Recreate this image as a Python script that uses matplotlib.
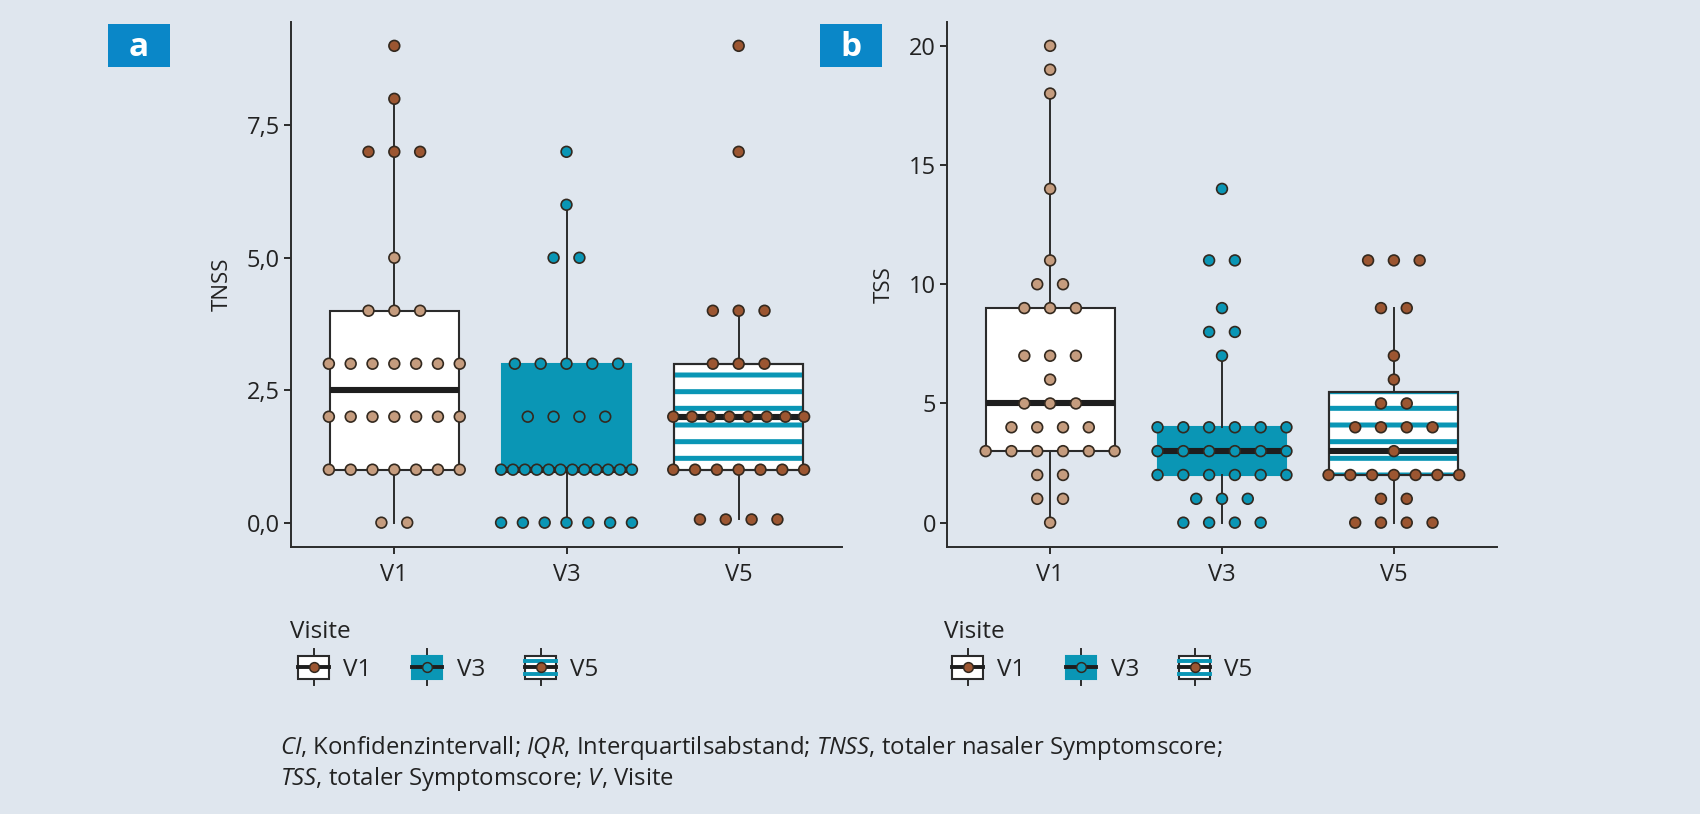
import matplotlib
matplotlib.use('Agg')
import matplotlib.pyplot as plt
import numpy as np
from matplotlib.legend_handler import HandlerBase
from matplotlib.patches import Rectangle, PathPatch, Patch
from matplotlib.lines import Line2D

plt.rcParams['font.family'] = ['Open Sans', 'DejaVu Sans']
plt.rcParams['mathtext.fontset'] = 'custom'
plt.rcParams['mathtext.it'] = 'Open Sans:italic'
plt.rcParams['mathtext.rm'] = 'Open Sans'
plt.rcParams['hatch.linewidth'] = 3.6

# data
visits = ['V1', 'V3', 'V5']

tnss_v1 = [9, 8, 7, 7, 7, 5, 4, 4, 4, 3, 3, 3, 3, 3, 3, 3, 2, 2, 2, 2, 2, 2, 2,
           1, 1, 1, 1, 1, 1, 1, 0, 0]
tnss_v3 = [7, 6, 5, 5, 3, 3, 3, 3, 3, 2, 2, 2, 2, 1, 1, 1, 1, 1, 1, 1, 1, 1, 1,
           1, 1, 0, 0, 0, 0, 0, 0, 0]
tnss_v5 = [9, 7, 4, 4, 4, 3, 3, 3, 2, 2, 2, 2, 2, 2, 2, 2, 1, 1, 1, 1, 1, 1, 1,
           0.06, 0.06, 0.06, 0.06]

tss_v1 = [20, 19, 18, 14, 11, 10, 10, 9, 9, 9, 7, 7, 7, 6, 5, 5, 5, 4, 4, 4, 4,
          3, 3, 3, 3, 3, 3, 2, 2, 1, 1, 0]
tss_v3 = [14, 11, 11, 9, 8, 8, 7, 4, 4, 4, 4, 4, 4, 3, 3, 3, 3, 3, 3, 2, 2, 2, 2,
          2, 2, 1, 1, 1, 0, 0, 0, 0]
tss_v5 = [11, 11, 11, 9, 9, 7, 6, 5, 5, 4, 4, 4, 4, 3, 2, 2, 2, 2, 2, 2, 2, 1, 1,
          0, 0, 0, 0]

tnss_ticks = [0, 2.5, 5, 7.5]
tnss_ticklabels = ['0,0', '2,5', '5,0', '7,5']
tss_ticks = [0, 5, 10, 15, 20]
tss_ticklabels = ['0', '5', '10', '15', '20']

# colours
BG = '#DFE6EE'
TEAL = '#0A96B5'
TAN = '#C59C7E'
BROWN = '#9C5631'
DARK = '#2B2B2B'
EDGE = '#33291F'
BLUE = '#0A87C8'


def spread(vals, width=0.38):
    # deterministic side-by-side placement of equal values
    vals = np.asarray(vals, dtype=float)
    off = np.zeros(len(vals))
    for v in np.unique(vals):
        idx = np.where(vals == v)[0]
        n = len(idx)
        if n > 1:
            w = min(width, 0.075 * (n - 1))
            off[idx] = np.linspace(-w, w, n)
    return off


def panel(ax, groups, dot_colors, ylim, ticks, ticklabels, ylabel, dark_above=None):
    ax.set_facecolor(BG)
    bp = ax.boxplot(groups, positions=[1, 2, 3], widths=0.75, patch_artist=True,
                    showfliers=False, whis=1.5,
                    medianprops=dict(color='#1E1E1E', lw=4.4, solid_capstyle='butt'),
                    whiskerprops=dict(color=DARK, lw=1.4),
                    capprops=dict(lw=0),
                    boxprops=dict(lw=1.5))
    for i, box in enumerate(bp['boxes']):
        box.set_zorder(1.9)
        if i == 1:
            box.set_facecolor(TEAL)
            box.set_edgecolor(TEAL)
        else:
            box.set_facecolor('white')
            box.set_edgecolor(DARK)
        if i == 2:
            ax.add_patch(PathPatch(box.get_path(), facecolor='none', edgecolor=TEAL,
                                   lw=0, hatch='-', zorder=2.0))
            ax.add_patch(PathPatch(box.get_path(), facecolor='none', edgecolor=DARK,
                                   lw=1.5, zorder=2.1))
    for m in bp['medians']:
        m.set_zorder(2.2)

    for i, vals in enumerate(groups):
        vals = np.asarray(vals, dtype=float)
        cols = [dot_colors[i]] * len(vals)
        if dark_above is not None and i == 0:
            cols = [BROWN if v > dark_above else dot_colors[i] for v in vals]
        ax.scatter(i + 1 + spread(vals), vals, s=60, c=cols, edgecolors=EDGE,
                   linewidths=1.2, zorder=3)

    ax.set_xlim(0.4, 3.6)
    ax.set_ylim(*ylim)
    ax.set_xticks([1, 2, 3])
    ax.set_xticklabels(visits)
    ax.set_yticks(ticks)
    ax.set_yticklabels(ticklabels)
    ax.set_ylabel(ylabel, fontsize=16, color='#222', labelpad=10)
    for s in ['top', 'right']:
        ax.spines[s].set_visible(False)
    for s in ['left', 'bottom']:
        ax.spines[s].set_color(DARK)
        ax.spines[s].set_linewidth(1.4)
    ax.tick_params(axis='y', length=5, width=1.4, color=DARK, labelsize=17,
                   labelcolor='#222', pad=3)
    ax.tick_params(axis='x', length=5, width=1.4, color=DARK, labelsize=17,
                   labelcolor='#222', pad=7)


class BoxKey(HandlerBase):
    def __init__(self, face, edge, dot, stripes=False):
        super().__init__()
        self.face, self.edge, self.dot, self.stripes = face, edge, dot, stripes

    def create_artists(self, legend, orig_handle, xdescent, ydescent, width,
                       height, fontsize, trans):
        x0, y0 = -xdescent + 6, -ydescent
        width = width - 6
        cx, cy = x0 + width / 2, y0 + height / 2
        arts = [Line2D([cx, cx], [y0 - 0.3 * height, y0 + 1.3 * height],
                       color=DARK, lw=1.4)]
        arts.append(Rectangle((x0, y0), width, height, facecolor=self.face,
                              edgecolor=self.edge, lw=1.5))
        if self.stripes:
            for f in (0.22, 0.78):
                arts.append(Line2D([x0, x0 + width], [y0 + f * height] * 2,
                                   color=TEAL, lw=2.8))
        arts.append(Line2D([x0, x0 + width], [cy, cy], color='#1E1E1E', lw=2.8))
        arts.append(Line2D([cx], [cy], marker='o', ms=7, mfc=self.dot,
                           mec=EDGE, mew=1.1, ls='none'))
        for a in arts:
            a.set_transform(trans)
        return arts


def add_legend(ax, x):
    handles = [Patch(), Patch(), Patch()]
    hmap = {handles[0]: BoxKey('white', DARK, BROWN),
            handles[1]: BoxKey(TEAL, TEAL, TEAL),
            handles[2]: BoxKey('white', DARK, BROWN, stripes=True)}
    leg = ax.legend(handles, visits, handler_map=hmap, title='Visite',
                    loc='upper left', bbox_to_anchor=(x / 1700, 1 - 620 / 814),
                    bbox_transform=fig.transFigure, ncol=3, frameon=False,
                    fontsize=17.5, title_fontsize=17.5, handlelength=1.6,
                    handleheight=1.05, handletextpad=0.6, columnspacing=1.3,
                    borderpad=0, borderaxespad=0, alignment='left')
    for t in leg.get_texts():
        t.set_color('#222')
    leg.get_title().set_color('#222')


fig = plt.figure(figsize=(17, 8.14), dpi=100, facecolor=BG)
ax_a = fig.add_axes([291 / 1700, 1 - 546.5 / 814, 551 / 1700, 524.5 / 814])
ax_b = fig.add_axes([947 / 1700, 1 - 546.5 / 814, 550 / 1700, 524.5 / 814])

panel(ax_a, [tnss_v1, tnss_v3, tnss_v5], [TAN, TEAL, BROWN], (-0.45, 9.45),
      tnss_ticks, tnss_ticklabels, 'TNSS', dark_above=6.5)
panel(ax_b, [tss_v1, tss_v3, tss_v5], [TAN, TEAL, BROWN], (-1, 21),
      tss_ticks, tss_ticklabels, 'TSS')

add_legend(ax_a, 290)
add_legend(ax_b, 944)

# panel letters
for lx, letter in [(108, 'a'), (820, 'b')]:
    fig.patches.append(Rectangle((lx / 1700, 1 - 67 / 814), 62 / 1700, 43 / 814,
                                 transform=fig.transFigure, facecolor=BLUE,
                                 edgecolor='none'))
    fig.text((lx + 31) / 1700, 1 - 47 / 814, letter, color='white', fontsize=24,
             fontweight='bold', ha='center', va='center')

# footnote
fig.text(280 / 1700, 1 - 748 / 814,
         r'$\mathit{CI}$, Konfidenzintervall; $\mathit{IQR}$, Interquartilsabstand; '
         r'$\mathit{TNSS}$, totaler nasaler Symptomscore;',
         fontsize=17.2, color='#222', va='center', ha='left')
fig.text(280 / 1700, 1 - 779 / 814,
         r'$\mathit{TSS}$, totaler Symptomscore; $\mathit{V}$, Visite',
         fontsize=17.2, color='#222', va='center', ha='left')

fig.savefig('out.png', dpi=100, facecolor=BG)
